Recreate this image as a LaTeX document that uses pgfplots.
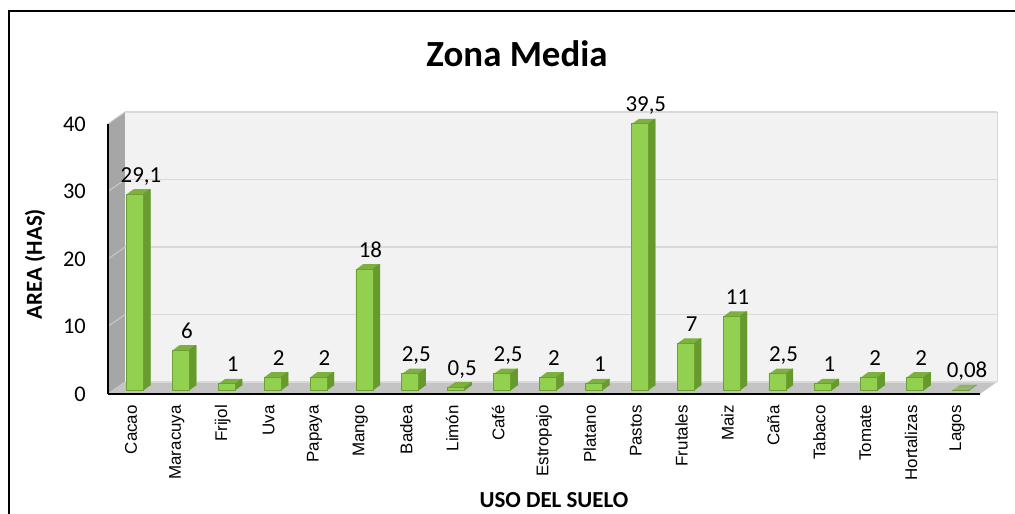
\documentclass[border=0pt]{standalone}
\usepackage{pgfplots}
\pgfplotsset{compat=1.18}
\usepackage{pgfplotstable}
\usepackage{fontspec}
\setmainfont{Carlito}
\newfontfamily\arial{Liberation Sans}
\definecolor{gfront}{HTML}{92D050}
\definecolor{gedge}{HTML}{6E9F32}
\definecolor{gtop}{HTML}{7DB13E}
\definecolor{gside}{HTML}{679A2C}
\definecolor{backwall}{HTML}{F2F2F2}
\definecolor{gridc}{HTML}{D9D9D9}
\definecolor{leftgray}{HTML}{A6A6A6}
\definecolor{floorgray}{HTML}{C4C4C4}
\definecolor{wallgrid}{HTML}{C9C9C9}

\pgfplotstableread{
x v l
0 29.1 29,1
1 6 6
2 1 1
3 2 2
4 2 2
5 18 18
6 2.5 2,5
7 0.5 0,5
8 2.5 2,5
9 2 2
10 1 1
11 39.5 39,5
12 7 7
13 11 11
14 2.5 2,5
15 1 1
16 2 2
17 2 2
18 0.08 0,08
}\datatable

\pgfplotsset{
  ext/.style 2 args={ybar, bar width=17bp, bar shift=#1, yshift=#2, fill=gtop, draw=none, forget plot},
  sid/.style 2 args={ybar, bar width=1.3bp, bar shift=#1, yshift=#2, fill=gside, draw=none, forget plot},
}

\begin{document}
\begin{tikzpicture}
\path[use as bounding box] (-108bp,-120bp) rectangle (907bp,394bp);
% outer frame (left and top visible)
\draw[black, line width=1.6bp] (-99bp,-125bp) -- (-99bp,383bp) -- (912bp,383bp);
% 3D walls
\fill[floorgray] (0bp,0bp) -- (872bp,0bp) -- (889bp,12bp) -- (17bp,12bp) -- cycle;
\fill[leftgray] (0bp,0bp) -- (0bp,270bp) -- (17bp,282bp) -- (17bp,12bp) -- cycle;
\fill[backwall] (17bp,12bp) rectangle (889bp,282bp);
\draw[gridc, line width=0.8bp] (889bp,12bp) -- (889bp,282bp);
\foreach \yb/\yf in {12/0, 79.5/67.5, 147/135, 214.5/202.5, 282/270} {
  \draw[gridc, line width=1.3bp] (17bp,\yb bp) -- (889bp,\yb bp);
  \draw[wallgrid, line width=1bp] (0bp,\yf bp) -- (17bp,\yb bp);
}
\begin{axis}[
  scale only axis, width=872bp, height=270bp,
  at={(0,0)}, anchor=south west,
  xmin=-0.5, xmax=18.5, ymin=0, ymax=40,
  clip=false,
  axis x line*=bottom, axis y line*=left,
  axis line style={-, black, line width=1.5bp},
  major tick length=0pt,
  xtick={0,...,18},
  xticklabels={Cacao, Maracuya, Frijol, Uva, Papaya, Mango, Badea, Limón, Café, Estropajo, Platano, Pastos, Frutales, Maiz, Caña, Tabaco, Tomate, Hortalizas, Lagos},
  ytick={0,10,20,30,40},
  yticklabels={0,10,20,30,40},
  xticklabel style={rotate=90, anchor=east, inner sep=0pt, font=\arial\fontsize{17}{20}\selectfont},
  xticklabel shift=11bp,
  yticklabel style={anchor=east, inner sep=0pt, font=\fontsize{22.5}{26}\selectfont},
  yticklabel shift=22bp,
]
% extrusion (top faces)
\addplot[ext={11bp}{8.5bp}] table[x=x,y=v]{\datatable};
\addplot[ext={10bp}{7.8bp}] table[x=x,y=v]{\datatable};
\addplot[ext={9bp}{7.1bp}] table[x=x,y=v]{\datatable};
\addplot[ext={8bp}{6.4bp}] table[x=x,y=v]{\datatable};
\addplot[ext={7bp}{5.6bp}] table[x=x,y=v]{\datatable};
\addplot[ext={6bp}{4.9bp}] table[x=x,y=v]{\datatable};
\addplot[ext={5bp}{4.2bp}] table[x=x,y=v]{\datatable};
% side faces
\addplot[sid={13bp}{4.2bp}] table[x=x,y=v]{\datatable};
\addplot[sid={14bp}{4.9bp}] table[x=x,y=v]{\datatable};
\addplot[sid={15bp}{5.6bp}] table[x=x,y=v]{\datatable};
\addplot[sid={16bp}{6.4bp}] table[x=x,y=v]{\datatable};
\addplot[sid={17bp}{7.1bp}] table[x=x,y=v]{\datatable};
\addplot[sid={18bp}{7.8bp}] table[x=x,y=v]{\datatable};
\addplot[sid={19bp}{8.5bp}] table[x=x,y=v]{\datatable};
% front faces
\addplot[ybar, bar width=17bp, bar shift=4bp, yshift=3.5bp, fill=gfront, draw=gedge, line width=0.8bp] table[x=x,y=v]{\datatable};
% data labels
\addplot[draw=none, mark=none, point meta=explicit symbolic,
  nodes near coords,
  every node near coord/.append style={anchor=base, inner sep=0pt, xshift=10bp, yshift=15.5bp, font=\fontsize{23}{27}\selectfont, text=black},
] table[x=x,y=v,meta=l]{\datatable};
\end{axis}
% titles
\node[anchor=base, font=\bfseries\fontsize{37}{42}\selectfont] at (409bp,327bp) {Zona Media};
\node[anchor=base, rotate=90, font=\bfseries\fontsize{23}{26}\selectfont] at (-66bp,130bp) {AREA (HAS)};
\node[anchor=base, font=\bfseries\fontsize{23}{26}\selectfont] at (446bp,-113bp) {USO DEL SUELO};
\end{tikzpicture}
\end{document}
